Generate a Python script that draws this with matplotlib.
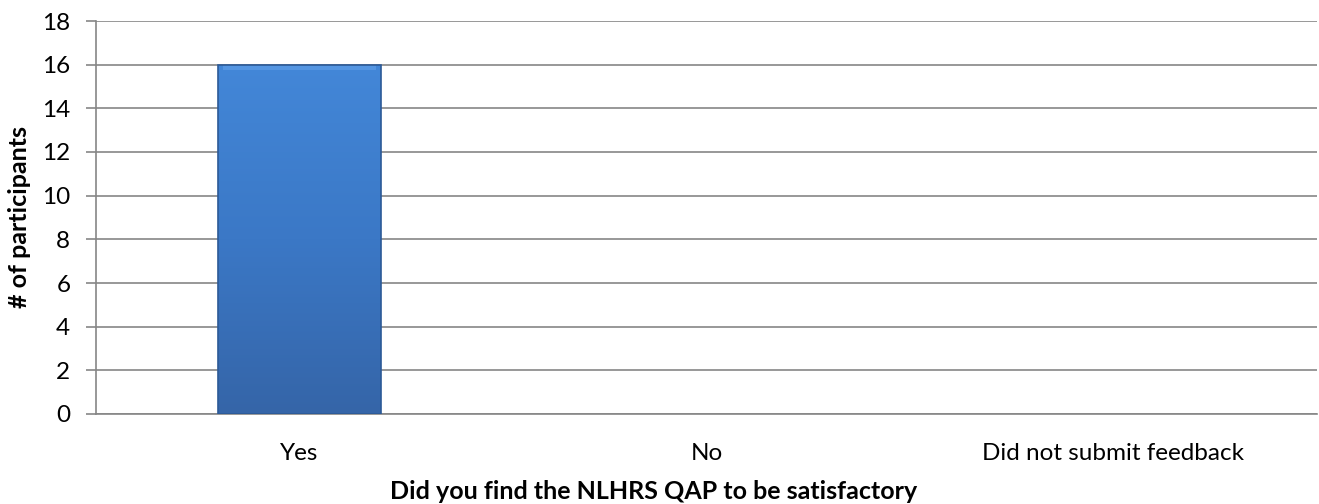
import numpy as np
import matplotlib
matplotlib.use("Agg")
import matplotlib.pyplot as plt
from matplotlib.patches import Rectangle
from matplotlib.colors import LinearSegmentedColormap

categories = ["Yes", "No", "Did not submit feedback"]
values = [16, 0, 0]
yticks = [0, 2, 4, 6, 8, 10, 12, 14, 16, 18]
xlabel = "Did you find the NLHRS QAP to be satisfactory"
ylabel = "# of participants"

plt.rcParams['font.family'] = ['Lato', 'DejaVu Sans']

fig = plt.figure(figsize=(13.19, 5.04), dpi=100)
ax = fig.add_axes([96/1319, 90/504, (1317-96)/1319, (414-21)/504])

x = np.arange(len(categories))
bw = 0.40
bars = ax.bar(x, values, width=bw, color="#3b75c0", linewidth=0, zorder=3)

grad = np.linspace(0, 1, 256).reshape(-1, 1)
cmap = LinearSegmentedColormap.from_list("g", ["#3565a8", "#3b78c6", "#4387d8"])
for b, v in zip(bars, values):
    if v <= 0:
        continue
    x0 = b.get_x(); w = b.get_width()
    im = ax.imshow(grad, extent=[x0, x0 + w, 0, v], origin="lower", cmap=cmap,
                   aspect="auto", zorder=4)
    im.set_clip_path(b)
    ax.add_patch(Rectangle((x0 + w*0.03, v - 0.25), w*0.94, 0.25, facecolor="#5a9be6",
                           edgecolor="none", zorder=5, alpha=0.8))
    ax.add_patch(Rectangle((x0, 0), w, v, facecolor="none", edgecolor="#2c5a97",
                           linewidth=1.2, zorder=6))

ax.set_xlim(-0.5, len(categories) - 0.5)
ax.set_ylim(0, 18)
ax.set_yticks(yticks)
ax.set_xticks(x)
ax.set_xticklabels(categories, fontsize=17.5)
ax.tick_params(axis='y', labelsize=17.5, length=7, width=1.2, color="#868686", pad=11.5)
ax.tick_params(axis='x', length=0, pad=21)
ax.yaxis.grid(True, color="#868686", linewidth=1.2, zorder=0)
ax.set_axisbelow(True)
for s in ["top", "right"]:
    ax.spines[s].set_visible(False)
for s in ["left", "bottom"]:
    ax.spines[s].set_color("#868686")
    ax.spines[s].set_linewidth(1.2)

ax.set_xlabel(xlabel, fontsize=18, fontweight="bold")
ax.xaxis.label.set_va("top")
ax.set_ylabel(ylabel, fontsize=18, fontweight="bold", labelpad=8)
ax.xaxis.set_label_coords((654 - 96) / 1221, (414 - 480) / 393)

fig.savefig("out.png", dpi=100)
